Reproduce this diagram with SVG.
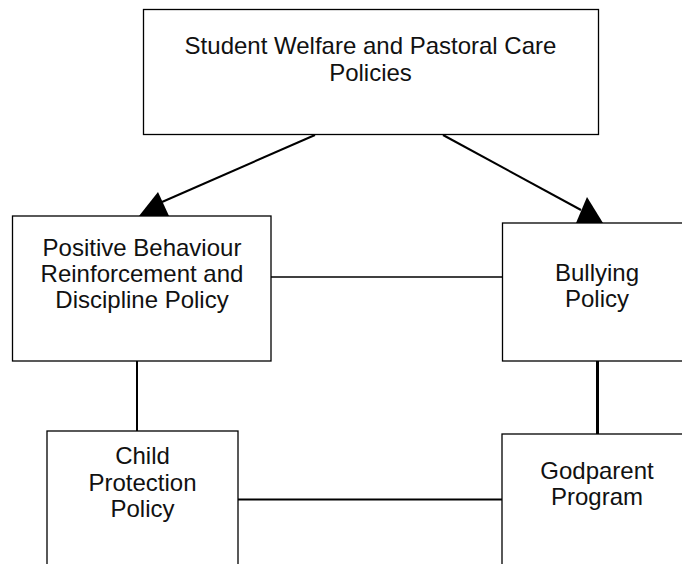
<svg xmlns="http://www.w3.org/2000/svg" width="682" height="564" viewBox="0 0 682 564">
<style>
.box{fill:#fff;stroke:#000;stroke-width:1.3}
.lbl{font-family:"Liberation Sans",Arial,sans-serif;font-size:24px;fill:#111;text-anchor:middle}
.con{stroke:#000;fill:none}
.head{fill:#000;stroke:none}
</style>
<rect width="682" height="564" fill="#fff"/>
<g id="connectors">
<line class="con" x1="315" y1="135" x2="162" y2="202" stroke-width="2"/>
<polygon class="head" points="158,192 139,216 169,216"/>
<line class="con" x1="443" y1="135" x2="581" y2="210" stroke-width="2"/>
<polygon class="head" points="587,197 576,223 603,223"/>
<line class="con" x1="271" y1="277" x2="503" y2="277" stroke-width="1.4"/>
<line class="con" x1="137" y1="361" x2="137" y2="431" stroke-width="2"/>
<line class="con" x1="597.5" y1="361" x2="597.5" y2="437" stroke-width="3"/>
<line class="con" x1="238" y1="499.5" x2="502" y2="499.5" stroke-width="2"/>
</g>
<g id="node-top">
<rect class="box" x="143.5" y="9.5" width="455" height="125"/>
<text class="lbl" x="370.5" y="54">Student Welfare and Pastoral Care</text>
<text class="lbl" x="370.5" y="81">Policies</text>
</g>
<g id="node-behaviour">
<rect class="box" x="12.5" y="216" width="258.5" height="145"/>
<text class="lbl" x="142" y="256">Positive Behaviour</text>
<text class="lbl" x="142" y="282">Reinforcement and</text>
<text class="lbl" x="142" y="308">Discipline Policy</text>
</g>
<g id="node-bullying">
<rect class="box" x="502.5" y="223" width="200" height="138"/>
<text class="lbl" x="597" y="281">Bullying</text>
<text class="lbl" x="597" y="307">Policy</text>
</g>
<g id="node-child">
<rect class="box" x="47" y="431" width="191" height="200"/>
<text class="lbl" x="142.5" y="464">Child</text>
<text class="lbl" x="142.5" y="490.5">Protection</text>
<text class="lbl" x="142.5" y="517">Policy</text>
</g>
<g id="node-godparent">
<rect class="box" x="502" y="434" width="200" height="200"/>
<text class="lbl" x="597" y="479">Godparent</text>
<text class="lbl" x="597" y="505">Program</text>
</g>
</svg>
